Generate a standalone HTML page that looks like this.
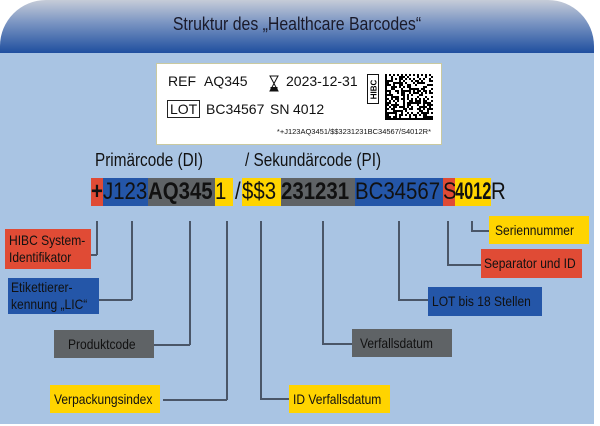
<!DOCTYPE html>
<html><head><meta charset="utf-8">
<style>
*{margin:0;padding:0;box-sizing:border-box}
body{width:600px;height:426px;background:#fff;position:relative;overflow:hidden;font-family:"Liberation Sans",sans-serif}
.a{position:absolute}
#hdr{left:0;top:0;width:594px;height:53px;border-radius:46px 46px 0 0;background:linear-gradient(#c6ccd8,#7f98c4 40%,#1f4f9f);}
#hdr div{width:100%;text-align:center;padding-top:14px;font-size:18px;color:#1a1a2a;transform:scaleX(.88)}
#pan{left:0;top:53px;width:594px;height:371px;background:#a9c4e3}
.lb{position:absolute;background:#fff;border:1px solid #c9c9a0;left:156px;top:63px;width:286px;height:82px}
.t{position:absolute;font-size:14px;color:#111;white-space:nowrap}
.sx{display:inline-block;transform-origin:left center}
.seg{position:absolute;top:178px;height:28px;font-size:24px;line-height:28px;color:#111;white-space:nowrap;overflow:visible}
.seg span{display:inline-block;transform:scaleX(.85);transform-origin:left center}
.box{position:absolute;font-size:14px;color:#111;display:flex;align-items:center;padding-left:6px;line-height:17px;white-space:nowrap}
.box span{display:inline-block;transform:scaleX(.86);transform-origin:left center}
.ln{position:absolute;background:#4a5668}
</style></head><body>
<div id="hdr" class="a"><div>Struktur des „Healthcare Barcodes“</div></div>
<div id="pan" class="a"></div>
<div class="lb">
 <div class="t" style="left:11px;top:9px">REF</div>
 <div class="t" style="left:47px;top:9px">AQ345</div>
 <svg class="a" style="left:112px;top:11px" width="10" height="17"><path d="M1 1H9L5 8.5L9 16H1L5 8.5Z" fill="none" stroke="#111" stroke-width="1"/><rect x="1.5" y="12" width="7" height="4" fill="#111"/></svg>
 <div class="t" style="left:129px;top:9px">2023-12-31</div>
 <div class="t" style="left:10px;top:36px;border:1px solid #222;padding:0 2px;line-height:16px">LOT</div>
 <div class="t" style="left:49px;top:37px">BC34567</div>
 <div class="t" style="left:113px;top:37px">SN</div>
 <div class="t" style="left:136px;top:37px">4012</div>
 <div class="a" style="left:210px;top:10px;width:12px;height:30px;border:1.5px solid #111;"><div style="transform:rotate(-90deg);font-size:8px;font-weight:bold;position:absolute;left:-7px;top:10px;width:26px;text-align:center">HIBC</div></div>
 <svg id="dm" class="a" style="left:228px;top:10px" width="48" height="46"></svg>
 <div class="t" style="right:10px;top:63px;font-size:7.5px">*+J123AQ3451/$$3231231BC34567/S4012R*</div>
</div>
<div class="a" style="left:95px;top:150px;font-size:18px;color:#111"><span class="sx" style="transform:scaleX(.85)">Primärcode (DI)</span></div>
<div class="a" style="left:245px;top:150px;font-size:18px;color:#111"><span class="sx" style="transform:scaleX(.85)">/ Sekundärcode (PI)</span></div>
<div class="seg" style="left:91px;width:12px;background:#e04b35;font-weight:bold"><span>+</span></div>
<div class="seg" style="left:103px;width:45px;background:#2456a8"><span>J123</span></div>
<div class="seg" style="left:148px;width:67px;background:#5f6366;font-weight:bold"><span>AQ345</span></div>
<div class="seg" style="left:215px;width:18px;background:#ffd400"><span>1</span></div>
<div class="seg" style="left:235px;width:7px"><span>/</span></div>
<div class="seg" style="left:242px;width:39px;background:#ffd400"><span>$$3</span></div>
<div class="seg" style="left:281px;width:74px;background:#5f6366;font-weight:bold"><span>231231</span></div>
<div class="seg" style="left:355px;width:88px;background:#2456a8"><span>BC34567</span></div>
<div class="seg" style="left:443px;width:12px;background:#e04b35"><span>S</span></div>
<div class="seg" style="left:455px;width:36px;background:#ffd400;font-weight:bold"><span style="transform:scaleX(.68)">4012</span></div>
<div class="seg" style="left:491px;width:16px"><span>R</span></div>

<div class="box" style="left:5px;top:229px;width:86px;height:40px;background:#e04b35;padding-left:4px"><span>HIBC System-<br>Identifikator</span></div>
<div class="box" style="left:8px;top:278px;width:91px;height:36px;background:#2456a8;padding-left:3px"><span>Etikettierer-<br>kennung „LIC“</span></div>
<div class="box" style="left:54px;top:330px;width:100px;height:28px;background:#5f6366;padding-left:14px"><span>Produktcode</span></div>
<div class="box" style="left:50px;top:385px;width:110px;height:28px;background:#ffd400;padding-left:4px"><span>Verpackungsindex</span></div>
<div class="box" style="left:289px;top:385px;width:101px;height:28px;background:#ffd400;padding-left:4px"><span>ID Verfallsdatum</span></div>
<div class="box" style="left:352px;top:329px;width:100px;height:28px;background:#5f6366;padding-left:8px"><span>Verfallsdatum</span></div>
<div class="box" style="left:428px;top:287px;width:114px;height:29px;background:#2456a8;padding-left:4px"><span>LOT bis 18 Stellen</span></div>
<div class="box" style="left:481px;top:249px;width:101px;height:29px;background:#e04b35;padding-left:3px"><span>Separator und ID</span></div>
<div class="box" style="left:489px;top:216px;width:100px;height:28px;background:#ffd400;padding-left:6px"><span>Seriennummer</span></div>

<div class="ln" style="left:96px;top:221px;width:1.5px;height:34px"></div>
<div class="ln" style="left:91px;top:254px;width:6px;height:1.5px"></div>
<div class="ln" style="left:131px;top:221px;width:1.5px;height:79px"></div>
<div class="ln" style="left:99px;top:299px;width:33px;height:1.5px"></div>
<div class="ln" style="left:189px;top:221px;width:1.5px;height:124px"></div>
<div class="ln" style="left:154px;top:344px;width:36px;height:1.5px"></div>
<div class="ln" style="left:226px;top:221px;width:1.5px;height:179px"></div>
<div class="ln" style="left:163px;top:399px;width:64px;height:1.5px"></div>
<div class="ln" style="left:260px;top:221px;width:1.5px;height:178px"></div>
<div class="ln" style="left:260px;top:398px;width:29px;height:1.5px"></div>
<div class="ln" style="left:322px;top:221px;width:1.5px;height:123px"></div>
<div class="ln" style="left:322px;top:343px;width:30px;height:1.5px"></div>
<div class="ln" style="left:398px;top:221px;width:1.5px;height:79px"></div>
<div class="ln" style="left:398px;top:299px;width:30px;height:1.5px"></div>
<div class="ln" style="left:447px;top:221px;width:1.5px;height:44px"></div>
<div class="ln" style="left:447px;top:264px;width:34px;height:1.5px"></div>
<div class="ln" style="left:471px;top:221px;width:1.5px;height:10px"></div>
<div class="ln" style="left:471px;top:230px;width:18px;height:1.5px"></div>
<script>
var s=document.getElementById('dm'),h='',r=12345;
for(var y=0;y<23;y++)for(var x=0;x<24;x++){r=(r*1103515245+12345)%2147483648;
var on=(x==0||y==22)?1:(y==0?x%2==0:(x==23?y%2==1:((r>>16)&1)));
if(on)h+='<rect x="'+x*2+'" y="'+y*2+'" width="2" height="2"/>';}
s.innerHTML=h;
</script>
</body></html>
